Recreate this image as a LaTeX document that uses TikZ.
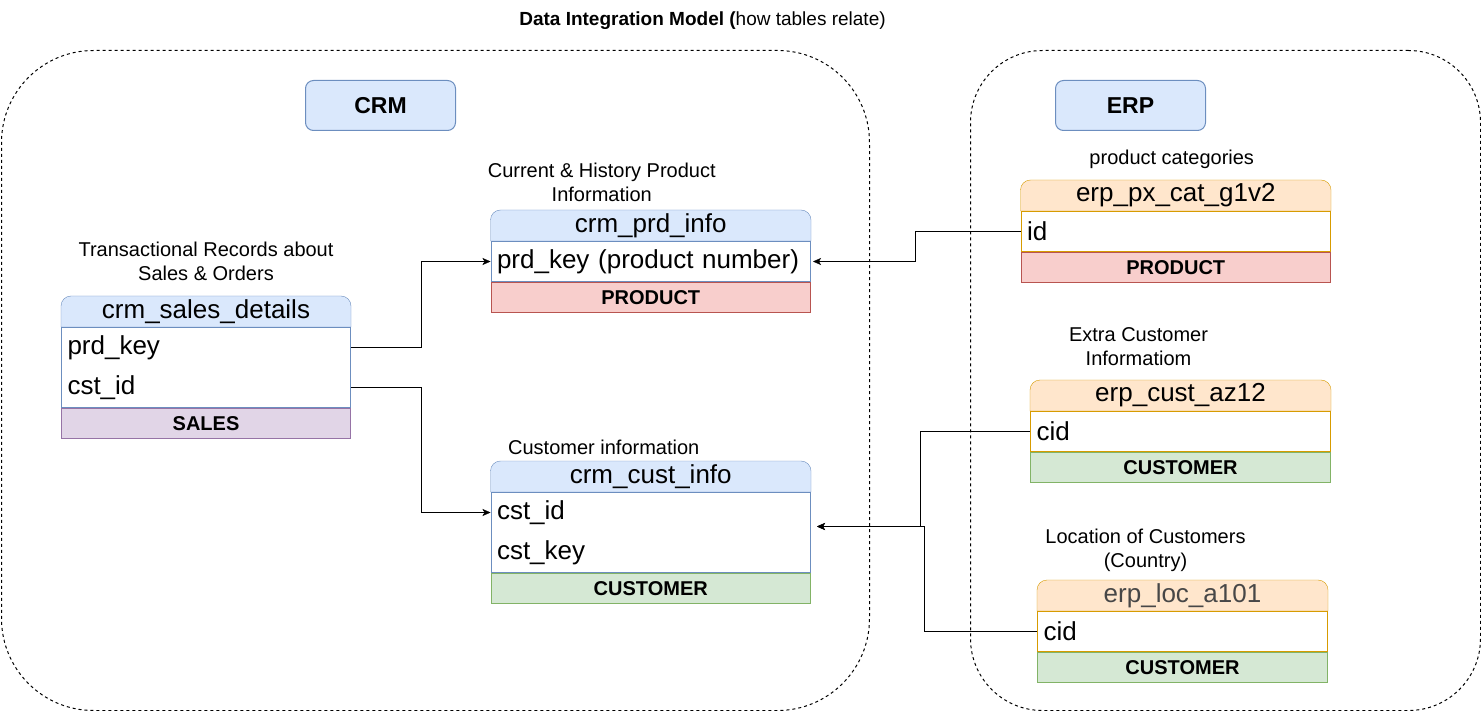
\documentclass[tikz,border=0pt]{standalone}
\usepackage{fontspec}
\setmainfont{Liberation Sans}
\usetikzlibrary{positioning, arrows.meta}
\pgfdeclarelayer{background}
\pgfsetlayers{background,main}

\definecolor{fillblue}{HTML}{DAE8FC}
\definecolor{lineblue}{HTML}{6C8EBF}
\definecolor{fillorange}{HTML}{FFE6CC}
\definecolor{lineorange}{HTML}{D79B00}
\definecolor{fillred}{HTML}{F8CECC}
\definecolor{linered}{HTML}{B85450}
\definecolor{fillgreen}{HTML}{D5E8D4}
\definecolor{linegreen}{HTML}{82B366}
\definecolor{fillpurple}{HTML}{E1D5E7}
\definecolor{linepurple}{HTML}{9673A6}

\tikzset{
  head/.style={anchor=north west, inner sep=0pt, minimum height=30pt, font=\fontsize{26}{26}\selectfont},
  body/.style={draw=#1, fill=white, inner xsep=6pt, inner ysep=0pt, align=left, font=\fontsize{26}{40}\selectfont},
  foot/.style 2 args={draw=#1, fill=#2, inner sep=0pt, minimum height=30pt, font=\fontsize{20}{20}\selectfont\bfseries},
  note/.style={align=center, inner sep=0pt, font=\fontsize{20}{24}\selectfont},
  area/.style={draw, dash pattern=on 3pt off 3pt, anchor=north west, inner sep=0pt},
  tag/.style={draw=lineblue, fill=fillblue, rounded corners=8pt, anchor=north west, minimum width=150pt, minimum height=50pt, font=\fontsize{23}{23}\selectfont\bfseries},
  link/.style={draw, -{Stealth[length=8pt, width=7pt, inset=2pt]}}
}

\begin{document}
\begin{tikzpicture}[x=1pt, y=-1pt, line width=1pt, node distance=0pt]
  \useasboundingbox (0,0) rectangle (1481,711);

  % title and the two system areas
  \node[font=\fontsize{19}{19}\selectfont, anchor=base] (title) at (702.5,26) {\textbf{Data Integration Model (}how tables relate)};
  \node[area, minimum width=868pt, minimum height=660pt, rounded corners=92pt] (crm-area) at (1,50) {};
  \node[area, minimum width=510pt, minimum height=660pt, rounded corners=72pt] (erp-area) at (970,50) {};
  \node[tag] (crm-tag) at (305,80) {CRM};
  \node[tag] (erp-tag) at (1055,80) {ERP};

  % crm tables
  \node[head, minimum width=289pt] (sales-h) at (61,296) {crm\_sales\_details};
  \node[body=lineblue, below=of sales-h, text width=277pt, minimum height=80pt] (sales-b) {prd\_key\\cst\_id};
  \node[foot={linepurple}{fillpurple}, below=of sales-b, minimum width=289pt] (sales-f) {SALES};
  \node[note, above=15pt of sales-h] (sales-n) {Transactional Records about\\Sales \& Orders};

  \node[head, minimum width=319.5pt] (prd-h) at (490.5,210) {crm\_prd\_info};
  \node[body=lineblue, below=of prd-h, text width=307.5pt, minimum height=40pt] (prd-b) {prd\_key (product number)};
  \node[foot={linered}{fillred}, below=of prd-b, minimum width=319.5pt] (prd-f) {PRODUCT};
  \node[note, above=8pt of prd-h, xshift=-49pt] (prd-n) {Current \& History Product\\Information};

  \node[head, minimum width=319.5pt] (cust-h) at (490.5,461) {crm\_cust\_info};
  \node[body=lineblue, below=of cust-h, text width=307.5pt, minimum height=80pt] (cust-b) {cst\_id\\cst\_key};
  \node[foot={linegreen}{fillgreen}, below=of cust-b, minimum width=319.5pt] (cust-f) {CUSTOMER};
  \node[note, above=6pt of cust-h, xshift=-47pt] (cust-n) {Customer information};

  % erp tables
  \node[head, minimum width=309.5pt] (pxcat-h) at (1020.5,180) {erp\_px\_cat\_g1v2};
  \node[body=lineorange, below=of pxcat-h, text width=297.5pt, minimum height=40pt] (pxcat-b) {id};
  \node[foot={linered}{fillred}, below=of pxcat-b, minimum width=309.5pt] (pxcat-f) {PRODUCT};
  \node[note, above=11pt of pxcat-h, xshift=-4pt] (pxcat-n) {product categories};

  \node[head, minimum width=300pt] (az12-h) at (1030,380) {erp\_cust\_az12};
  \node[body=lineorange, below=of az12-h, text width=288pt, minimum height=40pt] (az12-b) {cid};
  \node[foot={linegreen}{fillgreen}, below=of az12-b, minimum width=300pt] (az12-f) {CUSTOMER};
  \node[note, above=14pt of az12-h, xshift=-42pt] (az12-n) {Extra Customer\\Informatiom};

  \node[head, minimum width=290pt, text=black!72] (loc-h) at (1037,580) {erp\_loc\_a101};
  \node[body=lineorange, below=of loc-h, text width=278pt, minimum height=40pt] (loc-b) {cid};
  \node[foot={linegreen}{fillgreen}, below=of loc-b, minimum width=290pt] (loc-f) {CUSTOMER};
  \node[note, above=8pt of loc-h, xshift=-37pt] (loc-n) {Location of Customers\\(Country)};

  % table heads with rounded top corners
  \begin{pgfonlayer}{background}
    \foreach \t/\c in {sales/blue, prd/blue, cust/blue, pxcat/orange, az12/orange, loc/orange}
      \filldraw[draw=line\c, fill=fill\c] (\t-h.south west) -- ([yshift=-10pt]\t-h.north west)
        arc[start angle=180, end angle=90, radius=10pt] -- ([xshift=-10pt]\t-h.north east)
        arc[start angle=90, end angle=0, radius=10pt] -- (\t-h.south east) -- cycle;
  \end{pgfonlayer}

  % relations
  \path[link] ([yshift=20pt]sales-b.east) -- ++(70,0) |- (prd-b.west);
  \path[link] ([yshift=-20pt]sales-b.east) -- ++(70,0) |- ([yshift=20pt]cust-b.west);
  \path[link] (pxcat-b.west) -- ++(-105,0) |- ([xshift=2pt]prd-b.east);
  \path[link] (az12-b.west) -- ++(-110,0) |- ([xshift=6pt, yshift=6pt]cust-b.east);
  \path[link] (loc-b.west) -- ++(-113,0) |- ([xshift=6pt, yshift=6pt]cust-b.east);
\end{tikzpicture}
\end{document}
